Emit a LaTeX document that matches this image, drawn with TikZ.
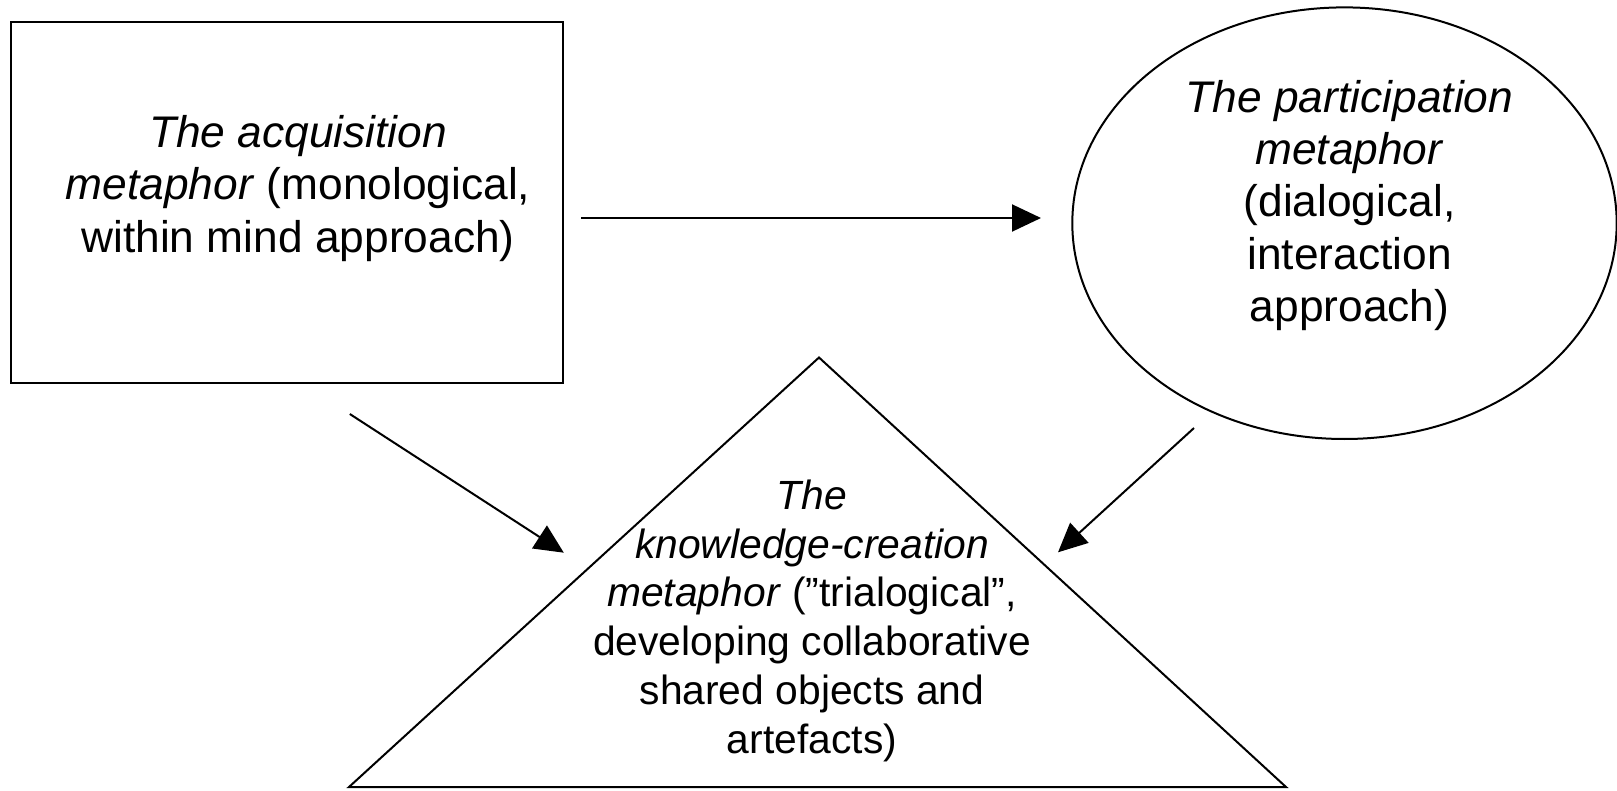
\documentclass[tikz,border=0pt]{standalone}
\usepackage{fontspec}
\setmainfont{Liberation Sans}
\usetikzlibrary{arrows.meta,shapes.geometric}
\begin{document}
\begin{tikzpicture}[x=1pt,y=-1pt,
  shapeline/.style={draw=black,line width=2pt},
  bigtext/.style={align=center,font=\fontsize{44.3}{52.2}\selectfont,inner sep=0pt},
  smalltext/.style={align=center,font=\fontsize{40.8}{48.7}\selectfont,inner sep=0pt},
  arr/.style={line width=2pt,-{Triangle[length=29pt,width=27pt]}}]
\useasboundingbox (0,0) rectangle (1617,791);
% shapes
\node[shapeline,rectangle,line width=2.3pt,minimum width=552.6pt,minimum height=361.6pt,inner sep=0pt] (acq) at (287,202.5) {};
\node[shapeline,ellipse,minimum width=544.4pt,minimum height=431.6pt,inner sep=0pt] (part) at (1344.5,223.2) {};
\coordinate (apex) at (819,357.5);
\coordinate (bright) at (1286,787);
\coordinate (bleft) at (349,787);
\draw[shapeline,line join=miter] (apex) -- (bright) -- (bleft) -- cycle;
% texts
\node[bigtext] (acqtext) at (298,188.4) {\textit{The acquisition}\\\textit{metaphor} (monological,\\within mind approach)};
\node[bigtext] (parttext) at (1349.5,205.5) {\textit{The participation}\\\textit{metaphor}\\(dialogical,\\interaction\\approach)};
\node[smalltext] (kctext) at (812,620.7) {\textit{The}\\\textit{knowledge-creation}\\\textit{metaphor} (”trialogical”,\\developing collaborative\\shared objects and\\artefacts)};
% connectors
\coordinate (h1) at (581,218);
\coordinate (h2) at (1041,218);
\coordinate (l1) at (349.8,414);
\coordinate (l2) at (563.8,552.7);
\coordinate (r1) at (1194,428);
\coordinate (r2) at (1058,552.3);
\draw[arr] (h1) -- (h2);
\draw[arr] (l1) -- (l2);
\draw[arr] (r1) -- (r2);
\end{tikzpicture}
\end{document}
